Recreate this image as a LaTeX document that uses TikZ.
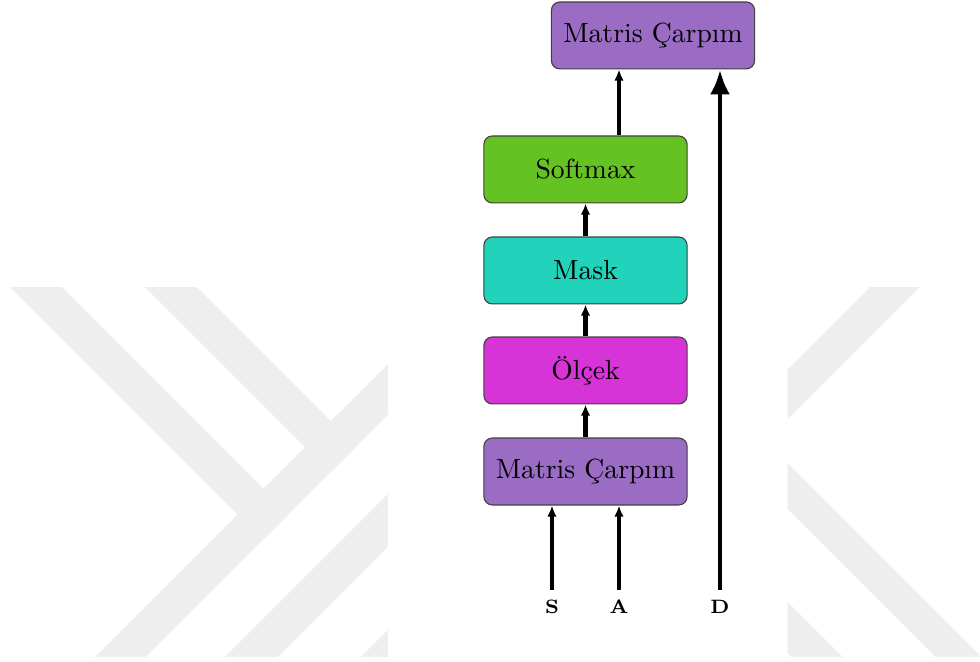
\documentclass[tikz,border=0pt]{standalone}
\usepackage{fontspec}
\usetikzlibrary{arrows.meta}

\definecolor{matcol}{HTML}{9B6CC4}
\definecolor{softcol}{HTML}{65C223}
\definecolor{maskcol}{HTML}{20D3BA}
\definecolor{olccol}{HTML}{D634D6}
\definecolor{wmcol}{HTML}{EEEEEE}

\newcommand*{\pw}{12.446}
\newcommand*{\ph}{8.407}

\begin{document}
\begin{tikzpicture}
[
	block/.style={rectangle,rounded corners=3pt,draw=black!75,minimum width=2.58cm,minimum height=0.85cm,inner sep=0pt},
	arr/.style={-{Latex[length=4pt,width=3.4pt]},line width=1.7pt},
	bigarr/.style={-{Latex[length=9pt,width=7.2pt]},line width=1.8pt},
	lbl/.style={font=\scriptsize\bfseries,inner xsep=0pt,inner ysep=3.4pt}
]

	\useasboundingbox (0,0) rectangle (\pw,\ph);

	% watermark
	\begin{scope}[x=0.0127cm,y=-0.0127cm,shift={(0,-662)}]
		\clip (0,280) rectangle (388,657) (788,280) rectangle (980,657);
		\fill[wmcol] (10,287) -- (62,287) -- (289,514) -- (263,540) -- cycle;
		\fill[wmcol] (145,287) -- (197,287) -- (356.5,446.5) -- (330.5,472.5) -- cycle;
		\fill[wmcol] (95,657) -- (146,657) -- (450,353) -- (450,302) -- cycle;
		\fill[wmcol] (225,657) -- (278,657) -- (450,485) -- (450,432) -- cycle;
		\fill[wmcol] (361,657) -- (415,657) -- (450,622) -- (450,568) -- cycle;
		\fill[wmcol] (870,287) -- (920,287) -- (700,507) -- (700,457) -- cycle;
		\fill[wmcol] (700,375) -- (982,657) -- (936,657) -- (700,421) -- cycle;
		\fill[wmcol] (700,514) -- (843,657) -- (792,657) -- (700,565) -- cycle;
	\end{scope}

	% blocks
	\node[block,fill=matcol] (matbot) at (7.436,2.419) {Matris Çarpım};
	\node[block,fill=olccol] (olcek) at (7.436,3.702) {Ölçek};
	\node[block,fill=maskcol] (mask) at (7.436,4.972) {Mask};
	\node[block,fill=softcol] (softmax) at (7.436,6.255) {Softmax};
	\node[block,fill=matcol] (mattop) at (8.293,7.957) {Matris Çarpım};

	% inputs
	\node[lbl] (slbl) at (7.010,0.699) {S};
	\node[lbl] (albl) at (7.861,0.699) {A};
	\node[lbl] (dlbl) at (9.144,0.699) {D};

	% arrows
	\draw[arr] (slbl) -- (matbot.south -| slbl);
	\draw[arr] (albl) -- (matbot.south -| albl);
	\draw[arr] (matbot) -- (olcek);
	\draw[arr] (olcek) -- (mask);
	\draw[arr] (mask) -- (softmax);
	\draw[arr] (softmax.north -| albl) -- (mattop.south -| albl);
	\draw[bigarr] (dlbl) -- (mattop.south -| dlbl);

\end{tikzpicture}
\end{document}
